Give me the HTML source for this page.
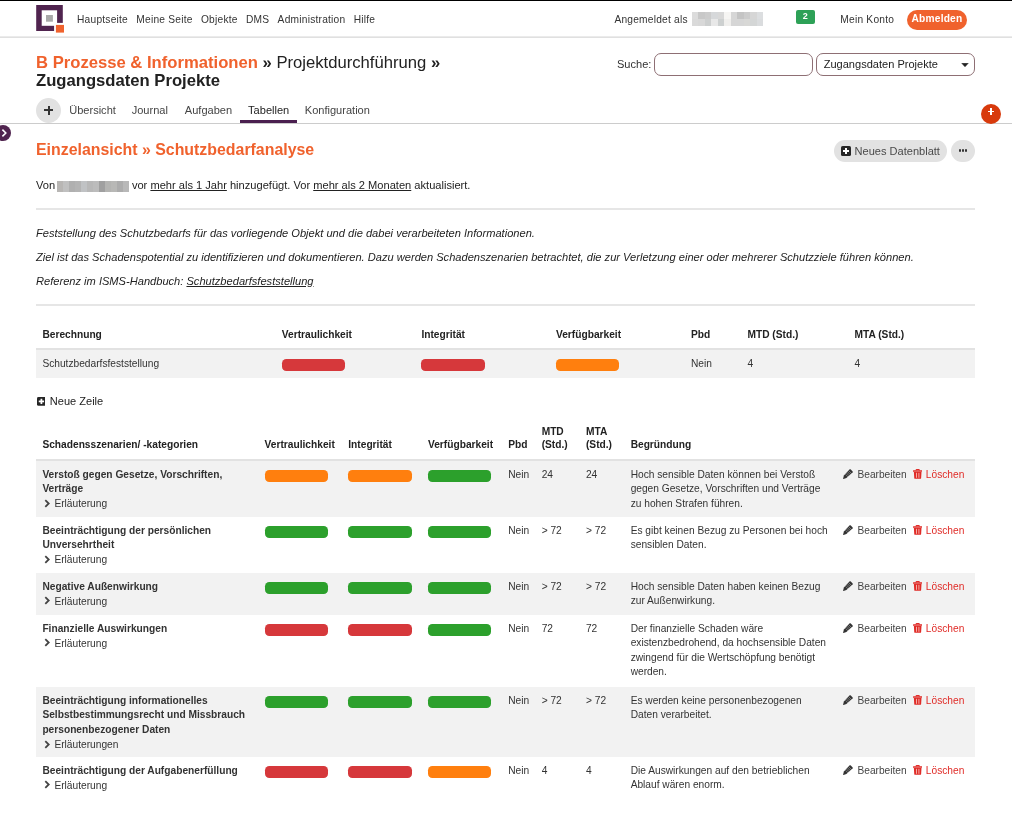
<!DOCTYPE html>
<html lang="de">
<head>
<meta charset="utf-8">
<title>Schutzbedarfanalyse</title>
<style>
*{box-sizing:border-box;}
html,body{margin:0;padding:0;}
body{width:1012px;height:829px;overflow:hidden;background:#fff;color:#333;font-family:"Liberation Sans",Arial,sans-serif;font-size:11.05px;position:relative;}
#topline{position:absolute;left:0;top:0;width:1012px;height:1px;background:#000;}
#hb{position:absolute;left:0;top:36px;width:1012px;height:2px;background:linear-gradient(#ebebeb 0,#ebebeb 50%,#e0e0e0 50%,#e0e0e0 100%);}
#logo{position:absolute;left:36px;top:5px;}
.nv{position:absolute;top:12.7px;font-size:10.2px;line-height:14px;letter-spacing:0.23px;color:#333;white-space:nowrap;}
.nv span{display:inline-block;margin-right:8.3px;}
#badge{position:absolute;left:795.8px;top:10.4px;width:19px;height:13.6px;background:#2da157;border-radius:2px;color:#fff;font-size:9px;font-weight:bold;text-align:center;line-height:12.4px;}
#abm{position:absolute;left:907px;top:9.5px;width:60px;height:20px;border-radius:10px;background:#f0622d;color:#fff;font-size:10.2px;font-weight:bold;text-align:center;line-height:18.7px;letter-spacing:0.2px;}
#crumb{position:absolute;left:36px;top:53.6px;font-size:16.65px;line-height:18.5px;color:#222;white-space:nowrap;}
#crumb .og{color:#f0622d;font-weight:bold;}
#suche{position:absolute;left:617px;top:58.3px;font-size:11.05px;line-height:13px;color:#333;}
#sinput{position:absolute;left:654px;top:53px;width:159px;height:22.5px;border:1px solid #8e6f74;border-radius:7px;background:#fff;}
#ssel{position:absolute;left:816px;top:53px;width:159px;height:22.5px;border:1px solid #8e6f74;border-radius:7px;background:#fff;font-size:11.05px;line-height:21.7px;padding-left:6.7px;color:#222;white-space:nowrap;}
#ssel svg{position:absolute;left:144.3px;top:9.3px;}
#tabline{position:absolute;left:0;top:123px;width:1012px;height:1px;background:#ccc;}
#plus{position:absolute;left:36px;top:97.7px;width:25.3px;height:25.3px;border-radius:50%;background:#e2e2e2;}
#plus:before{content:"";position:absolute;left:8.05px;top:11.55px;width:9.2px;height:2.2px;background:#333;}
#plus:after{content:"";position:absolute;left:11.55px;top:8.05px;width:2.2px;height:9.2px;background:#333;}
.tab{position:absolute;top:104.3px;font-size:11.05px;line-height:13px;color:#444;white-space:nowrap;}
#tabu{position:absolute;left:240px;top:120px;width:57px;height:3px;background:#4a1f4f;}
#rplus{position:absolute;left:981.2px;top:104px;width:20px;height:20px;border-radius:50%;background:#d83a0c;}
#rplus:before{content:"";position:absolute;left:6.6px;top:6.5px;width:6.4px;height:1.8px;background:#fff;}
#rplus:after{content:"";position:absolute;left:8.9px;top:4.2px;width:1.8px;height:6.4px;background:#fff;}
#tog{position:absolute;left:-5.1px;top:125px;width:16px;height:16px;border-radius:8px;background:#50244f;}
h2{position:absolute;left:36px;top:140.8px;margin:0;font-size:15.9px;line-height:18px;font-weight:bold;color:#f0622d;white-space:nowrap;}
#nd{position:absolute;left:833.7px;top:139.8px;width:113.4px;height:22.3px;border-radius:11.2px;background:#e2e2e2;font-size:11.05px;line-height:22.6px;color:#4a4a4a;padding-left:20.9px;white-space:nowrap;}
#nd .pi{position:absolute;left:7.2px;top:6px;}
#dots{position:absolute;left:951px;top:139.8px;width:24px;height:22.3px;border-radius:11.2px;background:#e2e2e2;}
#dots i{position:absolute;top:9.2px;width:2.6px;height:2.6px;background:#333;border-radius:1.3px;}
#von{position:absolute;left:36px;top:178.9px;font-size:11.1px;line-height:13px;white-space:nowrap;color:#222;}
.hr{position:absolute;left:36px;width:939px;height:2px;background:#e6e6e6;}
.it{position:absolute;left:36px;font-size:11.1px;line-height:13px;font-style:italic;color:#222;white-space:nowrap;}
table{position:absolute;left:36px;width:939px;border-collapse:separate;border-spacing:0;font-size:10.2px;color:#333;table-layout:fixed;}
th{text-align:left;font-weight:bold;color:#222;vertical-align:bottom;padding:0 4px 0 6.4px;line-height:14.57px;}
td{vertical-align:top;white-space:nowrap;padding:6.6px 4px 0 6.4px;line-height:14.57px;}
.pill{display:block;width:63.3px;height:12.5px;border-radius:4.3px;margin-top:2.3px;}
.pr{background:#d6383b;}.pg{background:#2ca02c;}.po{background:#ff7f0e;}
tr.z td{background:#f2f2f2;}
#t1{top:321px;}
#t1 th{height:29px;padding-bottom:5.9px;border-bottom:2px solid #e2e2e2;}
#t1 td{height:27.5px;padding-top:6.9px;}
#t1 .pill{margin-top:2.1px;}
#nz{position:absolute;left:36.5px;top:394.5px;font-size:11.05px;line-height:13px;color:#222;padding-left:13.3px;white-space:nowrap;}
#nz .pi{position:absolute;left:0;top:2.8px;width:8.8px;height:8.8px;}
#t2{top:417px;}
#t2 thead th{height:44px;line-height:13.6px;padding-bottom:7.1px;border-bottom:2px solid #e2e2e2;}
.sub{font-weight:normal;display:block;line-height:14.9px;position:relative;top:0.6px;padding-left:12px;}
.ch{position:absolute;left:1.9px;top:1.7px;}
.act{white-space:nowrap;position:relative;}
.act .ed{position:absolute;left:19.9px;top:6.7px;color:#444;}
.act .del{position:absolute;left:88.3px;top:6.7px;color:#e02b27;}
.act .ic{position:absolute;top:1.1px;}
.act .ed .ic{left:-14.2px;}
.act .del .ic{left:-12.9px;}
</style>
</head>
<body>
<svg id="logo" width="28" height="28" viewBox="0 0 28 28"><rect x="0.2" y="0" width="26.6" height="26" fill="#50244f"/><rect x="5.7" y="5.3" width="15.4" height="15.5" fill="#fff"/><rect x="10" y="10" width="6.9" height="6.7" fill="#a9a9a9"/><rect x="18.1" y="17.9" width="9.9" height="10.1" fill="#fff"/><rect x="19.9" y="19.9" width="8.1" height="7.7" fill="#f0622d"/></svg>
<div class="nv" style="left:77px"><span>Hauptseite</span><span>Meine Seite</span><span>Objekte</span><span>DMS</span><span>Administration</span><span>Hilfe</span></div>
<div class="nv" style="left:614.4px">Angemeldet als</div>
<svg style="position:absolute;left:692.1px;top:11.9px" width="71" height="13.9" viewBox="0 0 71 13.9" shape-rendering="crispEdges"><rect x="0" y="0" width="6.75" height="7.25" fill="#dcdcdc"/><rect x="6.45" y="0" width="6.75" height="7.25" fill="#c8c8c8"/><rect x="12.91" y="0" width="6.75" height="7.25" fill="#cccccc"/><rect x="19.36" y="0" width="6.75" height="7.25" fill="#d6d8da"/><rect x="25.82" y="0" width="6.75" height="7.25" fill="#d8d8d8"/><rect x="32.27" y="0" width="6.75" height="7.25" fill="#f6f5f3"/><rect x="38.73" y="0" width="6.75" height="7.25" fill="#d6d6d6"/><rect x="45.18" y="0" width="6.75" height="7.25" fill="#c4c4c4"/><rect x="51.64" y="0" width="6.75" height="7.25" fill="#cccccc"/><rect x="58.09" y="0" width="6.75" height="7.25" fill="#d6d6d6"/><rect x="64.55" y="0" width="6.75" height="7.25" fill="#dcdee0"/><rect x="0" y="6.95" width="6.75" height="7.25" fill="#dadada"/><rect x="6.45" y="6.95" width="6.75" height="7.25" fill="#d8d8d8"/><rect x="12.91" y="6.95" width="6.75" height="7.25" fill="#cdcfcf"/><rect x="19.36" y="6.95" width="6.75" height="7.25" fill="#e8e8e8"/><rect x="25.82" y="6.95" width="6.75" height="7.25" fill="#cdd0d0"/><rect x="32.27" y="6.95" width="6.75" height="7.25" fill="#f0efed"/><rect x="38.73" y="6.95" width="6.75" height="7.25" fill="#d6d6d6"/><rect x="45.18" y="6.95" width="6.75" height="7.25" fill="#d6d6d6"/><rect x="51.64" y="6.95" width="6.75" height="7.25" fill="#d8d8d6"/><rect x="58.09" y="6.95" width="6.75" height="7.25" fill="#d4d6d6"/><rect x="64.55" y="6.95" width="6.75" height="7.25" fill="#dadcde"/></svg>
<div id="badge">2</div>
<div class="nv" style="left:840.3px;top:12.9px">Mein Konto</div>
<div id="abm">Abmelden</div>
<div id="hb"></div>
<div id="topline"></div>

<div id="crumb"><span class="og">B Prozesse &amp; Informationen</span> <b>»</b> Projektdurchführung <b>»</b><br><b>Zugangsdaten Projekte</b></div>
<div id="suche">Suche:</div>
<div id="sinput"></div>
<div id="ssel">Zugangsdaten Projekte<svg width="8" height="4" viewBox="0 0 8 4"><path d="M0.8 0.3h6.4l-3.2 3.4z" fill="#222" stroke="#222" stroke-width="0.6" stroke-linejoin="round"/></svg></div>

<div id="tabline"></div>
<div id="plus"></div>
<div class="tab" style="left:69.2px">Übersicht</div>
<div class="tab" style="left:131.7px">Journal</div>
<div class="tab" style="left:184.8px">Aufgaben</div>
<div class="tab" style="left:248.1px;color:#222">Tabellen</div>
<div class="tab" style="left:304.8px">Konfiguration</div>
<div id="tabu"></div>
<div id="rplus"></div>
<div id="tog"><svg width="16" height="16" viewBox="0 0 16 16"><path d="M7.4 4.6l3.4 3.4-3.4 3.4" fill="none" stroke="#fff" stroke-width="1.6"/></svg></div>

<h2>Einzelansicht » Schutzbedarfanalyse</h2>
<div id="nd"><svg class="pi" width="10" height="10" viewBox="0 0 10 10"><rect width="10" height="10" rx="1.6" fill="#262626"/><rect x="2" y="4" width="6" height="2" fill="#fff"/><rect x="4" y="2" width="2" height="6" fill="#fff"/></svg>Neues Datenblatt</div>
<div id="dots"><i style="left:7.8px"></i><i style="left:10.7px"></i><i style="left:13.6px"></i></div>

<div id="von">Von <span style="display:inline-block;width:70.6px"></span> vor <u>mehr als 1 Jahr</u> hinzugefügt. Vor <u>mehr als 2 Monaten</u> aktualisiert.</div>
<svg style="position:absolute;left:57.2px;top:180.9px" width="71.7" height="10.8" viewBox="0 0 71.7 10.8" shape-rendering="crispEdges"><rect x="0" y="0" width="6.28" height="11.1" fill="#b8b6b4"/><rect x="5.98" y="0" width="6.28" height="11.1" fill="#c0c0c0"/><rect x="11.95" y="0" width="6.28" height="11.1" fill="#b0b0b0"/><rect x="17.93" y="0" width="6.28" height="11.1" fill="#b4b4b4"/><rect x="23.9" y="0" width="6.28" height="11.1" fill="#c0c2c4"/><rect x="29.88" y="0" width="6.28" height="11.1" fill="#b8b8b8"/><rect x="35.85" y="0" width="6.28" height="11.1" fill="#bcbcbc"/><rect x="41.83" y="0" width="6.28" height="11.1" fill="#a0a0a0"/><rect x="47.8" y="0" width="6.28" height="11.1" fill="#b4b4b2"/><rect x="53.78" y="0" width="6.28" height="11.1" fill="#b8b8b6"/><rect x="59.75" y="0" width="6.28" height="11.1" fill="#acacac"/><rect x="65.73" y="0" width="6.28" height="11.1" fill="#b8b8b8"/></svg>
<div class="hr" style="top:208px"></div>
<div class="it" style="top:226.8px">Feststellung des Schutzbedarfs für das vorliegende Objekt und die dabei verarbeiteten Informationen.</div>
<div class="it" style="top:250.8px">Ziel ist das Schadenspotential zu identifizieren und dokumentieren. Dazu werden Schadenszenarien betrachtet, die zur Verletzung einer oder mehrerer Schutzziele führen können.</div>
<div class="it" style="top:274.8px">Referenz im ISMS-Handbuch: <u>Schutzbedarfsfeststellung</u></div>
<div class="hr" style="top:304px"></div>

<table id="t1">
<colgroup><col style="width:239.4px"><col style="width:139.6px"><col style="width:134.6px"><col style="width:135px"><col style="width:56.5px"><col style="width:107px"><col></colgroup>
<thead><tr><th>Berechnung</th><th>Vertraulichkeit</th><th>Integrität</th><th>Verfügbarkeit</th><th>Pbd</th><th>MTD (Std.)</th><th>MTA (Std.)</th></tr></thead>
<tbody><tr class="z"><td>Schutzbedarfsfeststellung</td><td><i class="pill pr"></i></td><td><i class="pill pr"></i></td><td><i class="pill po"></i></td><td>Nein</td><td>4</td><td>4</td></tr></tbody>
</table>

<div id="nz"><svg class="pi" width="10" height="10" viewBox="0 0 10 10"><rect width="10" height="10" rx="1.6" fill="#262626"/><rect x="2" y="4" width="6" height="2" fill="#fff"/><rect x="4" y="2" width="2" height="6" fill="#fff"/></svg>Neue Zeile</div>

<table id="t2">
<colgroup><col style="width:222.2px"><col style="width:83.7px"><col style="width:79.7px"><col style="width:80.2px"><col style="width:33.5px"><col style="width:44.3px"><col style="width:44.7px"><col style="width:213.3px"><col></colgroup>
<thead><tr><th>Schadensszenarien/ -kategorien</th><th>Vertraulichkeit</th><th>Integrität</th><th>Verfügbarkeit</th><th>Pbd</th><th>MTD (Std.)</th><th>MTA (Std.)</th><th>Begründung</th><th></th></tr></thead>
<tbody>
<tr class="z" style="height:56px"><td><b>Verstoß gegen Gesetze, Vorschriften,<br>Verträge</b><span class="sub"><svg class="ch" width="7" height="9" viewBox="0 0 7 9"><path d="M1.3 1.2L4.7 4.5L1.3 7.8" fill="none" stroke="#444" stroke-width="1.8"/></svg>Erläuterung</span></td><td><i class="pill po"></i></td><td><i class="pill po"></i></td><td><i class="pill pg"></i></td><td>Nein</td><td>24</td><td>24</td><td>Hoch sensible Daten können bei Verstoß<br>gegen Gesetze, Vorschriften und Verträge<br>zu hohen Strafen führen.</td><td class="act"><span class="ed"><svg class="ic" width="10" height="10" viewBox="0 0 10 10"><path fill="#333" d="M7.5 0.3L9.7 2.5Q10 2.9 9.7 3.3L3.4 9.1L0.5 9.9Q0 10 0.1 9.5L0.9 6.6L6.7 0.3Q7.1 0 7.5 0.3z"/><path d="M5.7 1.7L8.3 4.3M4.6 2.9L7.2 5.5M3.5 4.1L6.1 6.7M2.4 5.3L5 7.9" stroke="#b0b0b0" stroke-width="0.55"/></svg>Bearbeiten</span><span class="del"><svg class="ic" width="9.4" height="9.8" viewBox="0 0 9.4 9.8"><path fill="none" stroke="#e02b27" stroke-width="1" d="M3.1 1.5V0.5H6.3V1.5"/><rect x="0" y="1.3" width="9.4" height="1.5" rx="0.4" fill="#e02b27"/><path fill="#e02b27" d="M0.9 3.1H8.5L8.1 9.2Q8 9.8 7.4 9.8H2Q1.4 9.8 1.3 9.2z"/><path d="M3.5 3.8V8.8M5.9 3.8V8.8" stroke="#f7bdb6" stroke-width="0.9"/></svg>Löschen</span></td></tr>
<tr class="" style="height:56px"><td><b>Beeinträchtigung der persönlichen<br>Unversehrtheit</b><span class="sub"><svg class="ch" width="7" height="9" viewBox="0 0 7 9"><path d="M1.3 1.2L4.7 4.5L1.3 7.8" fill="none" stroke="#444" stroke-width="1.8"/></svg>Erläuterung</span></td><td><i class="pill pg"></i></td><td><i class="pill pg"></i></td><td><i class="pill pg"></i></td><td>Nein</td><td>&gt; 72</td><td>&gt; 72</td><td>Es gibt keinen Bezug zu Personen bei hoch<br>sensiblen Daten.</td><td class="act"><span class="ed"><svg class="ic" width="10" height="10" viewBox="0 0 10 10"><path fill="#333" d="M7.5 0.3L9.7 2.5Q10 2.9 9.7 3.3L3.4 9.1L0.5 9.9Q0 10 0.1 9.5L0.9 6.6L6.7 0.3Q7.1 0 7.5 0.3z"/><path d="M5.7 1.7L8.3 4.3M4.6 2.9L7.2 5.5M3.5 4.1L6.1 6.7M2.4 5.3L5 7.9" stroke="#b0b0b0" stroke-width="0.55"/></svg>Bearbeiten</span><span class="del"><svg class="ic" width="9.4" height="9.8" viewBox="0 0 9.4 9.8"><path fill="none" stroke="#e02b27" stroke-width="1" d="M3.1 1.5V0.5H6.3V1.5"/><rect x="0" y="1.3" width="9.4" height="1.5" rx="0.4" fill="#e02b27"/><path fill="#e02b27" d="M0.9 3.1H8.5L8.1 9.2Q8 9.8 7.4 9.8H2Q1.4 9.8 1.3 9.2z"/><path d="M3.5 3.8V8.8M5.9 3.8V8.8" stroke="#f7bdb6" stroke-width="0.9"/></svg>Löschen</span></td></tr>
<tr class="z" style="height:42px"><td><b>Negative Außenwirkung</b><span class="sub"><svg class="ch" width="7" height="9" viewBox="0 0 7 9"><path d="M1.3 1.2L4.7 4.5L1.3 7.8" fill="none" stroke="#444" stroke-width="1.8"/></svg>Erläuterung</span></td><td><i class="pill pg"></i></td><td><i class="pill pg"></i></td><td><i class="pill pg"></i></td><td>Nein</td><td>&gt; 72</td><td>&gt; 72</td><td>Hoch sensible Daten haben keinen Bezug<br>zur Außenwirkung.</td><td class="act"><span class="ed"><svg class="ic" width="10" height="10" viewBox="0 0 10 10"><path fill="#333" d="M7.5 0.3L9.7 2.5Q10 2.9 9.7 3.3L3.4 9.1L0.5 9.9Q0 10 0.1 9.5L0.9 6.6L6.7 0.3Q7.1 0 7.5 0.3z"/><path d="M5.7 1.7L8.3 4.3M4.6 2.9L7.2 5.5M3.5 4.1L6.1 6.7M2.4 5.3L5 7.9" stroke="#b0b0b0" stroke-width="0.55"/></svg>Bearbeiten</span><span class="del"><svg class="ic" width="9.4" height="9.8" viewBox="0 0 9.4 9.8"><path fill="none" stroke="#e02b27" stroke-width="1" d="M3.1 1.5V0.5H6.3V1.5"/><rect x="0" y="1.3" width="9.4" height="1.5" rx="0.4" fill="#e02b27"/><path fill="#e02b27" d="M0.9 3.1H8.5L8.1 9.2Q8 9.8 7.4 9.8H2Q1.4 9.8 1.3 9.2z"/><path d="M3.5 3.8V8.8M5.9 3.8V8.8" stroke="#f7bdb6" stroke-width="0.9"/></svg>Löschen</span></td></tr>
<tr class="" style="height:72px"><td><b>Finanzielle Auswirkungen</b><span class="sub"><svg class="ch" width="7" height="9" viewBox="0 0 7 9"><path d="M1.3 1.2L4.7 4.5L1.3 7.8" fill="none" stroke="#444" stroke-width="1.8"/></svg>Erläuterung</span></td><td><i class="pill pr"></i></td><td><i class="pill pr"></i></td><td><i class="pill pg"></i></td><td>Nein</td><td>72</td><td>72</td><td>Der finanzielle Schaden wäre<br>existenzbedrohend, da hochsensible Daten<br>zwingend für die Wertschöpfung benötigt<br>werden.</td><td class="act"><span class="ed"><svg class="ic" width="10" height="10" viewBox="0 0 10 10"><path fill="#333" d="M7.5 0.3L9.7 2.5Q10 2.9 9.7 3.3L3.4 9.1L0.5 9.9Q0 10 0.1 9.5L0.9 6.6L6.7 0.3Q7.1 0 7.5 0.3z"/><path d="M5.7 1.7L8.3 4.3M4.6 2.9L7.2 5.5M3.5 4.1L6.1 6.7M2.4 5.3L5 7.9" stroke="#b0b0b0" stroke-width="0.55"/></svg>Bearbeiten</span><span class="del"><svg class="ic" width="9.4" height="9.8" viewBox="0 0 9.4 9.8"><path fill="none" stroke="#e02b27" stroke-width="1" d="M3.1 1.5V0.5H6.3V1.5"/><rect x="0" y="1.3" width="9.4" height="1.5" rx="0.4" fill="#e02b27"/><path fill="#e02b27" d="M0.9 3.1H8.5L8.1 9.2Q8 9.8 7.4 9.8H2Q1.4 9.8 1.3 9.2z"/><path d="M3.5 3.8V8.8M5.9 3.8V8.8" stroke="#f7bdb6" stroke-width="0.9"/></svg>Löschen</span></td></tr>
<tr class="z" style="height:70px"><td><b>Beeinträchtigung informationelles<br>Selbstbestimmungsrecht und Missbrauch<br>personenbezogener Daten</b><span class="sub"><svg class="ch" width="7" height="9" viewBox="0 0 7 9"><path d="M1.3 1.2L4.7 4.5L1.3 7.8" fill="none" stroke="#444" stroke-width="1.8"/></svg>Erläuterungen</span></td><td><i class="pill pg"></i></td><td><i class="pill pg"></i></td><td><i class="pill pg"></i></td><td>Nein</td><td>&gt; 72</td><td>&gt; 72</td><td>Es werden keine personenbezogenen<br>Daten verarbeitet.</td><td class="act"><span class="ed"><svg class="ic" width="10" height="10" viewBox="0 0 10 10"><path fill="#333" d="M7.5 0.3L9.7 2.5Q10 2.9 9.7 3.3L3.4 9.1L0.5 9.9Q0 10 0.1 9.5L0.9 6.6L6.7 0.3Q7.1 0 7.5 0.3z"/><path d="M5.7 1.7L8.3 4.3M4.6 2.9L7.2 5.5M3.5 4.1L6.1 6.7M2.4 5.3L5 7.9" stroke="#b0b0b0" stroke-width="0.55"/></svg>Bearbeiten</span><span class="del"><svg class="ic" width="9.4" height="9.8" viewBox="0 0 9.4 9.8"><path fill="none" stroke="#e02b27" stroke-width="1" d="M3.1 1.5V0.5H6.3V1.5"/><rect x="0" y="1.3" width="9.4" height="1.5" rx="0.4" fill="#e02b27"/><path fill="#e02b27" d="M0.9 3.1H8.5L8.1 9.2Q8 9.8 7.4 9.8H2Q1.4 9.8 1.3 9.2z"/><path d="M3.5 3.8V8.8M5.9 3.8V8.8" stroke="#f7bdb6" stroke-width="0.9"/></svg>Löschen</span></td></tr>
<tr class="" style="height:50px"><td><b>Beeinträchtigung der Aufgabenerfüllung</b><span class="sub"><svg class="ch" width="7" height="9" viewBox="0 0 7 9"><path d="M1.3 1.2L4.7 4.5L1.3 7.8" fill="none" stroke="#444" stroke-width="1.8"/></svg>Erläuterung</span></td><td><i class="pill pr"></i></td><td><i class="pill pr"></i></td><td><i class="pill po"></i></td><td>Nein</td><td>4</td><td>4</td><td>Die Auswirkungen auf den betrieblichen<br>Ablauf wären enorm.</td><td class="act"><span class="ed"><svg class="ic" width="10" height="10" viewBox="0 0 10 10"><path fill="#333" d="M7.5 0.3L9.7 2.5Q10 2.9 9.7 3.3L3.4 9.1L0.5 9.9Q0 10 0.1 9.5L0.9 6.6L6.7 0.3Q7.1 0 7.5 0.3z"/><path d="M5.7 1.7L8.3 4.3M4.6 2.9L7.2 5.5M3.5 4.1L6.1 6.7M2.4 5.3L5 7.9" stroke="#b0b0b0" stroke-width="0.55"/></svg>Bearbeiten</span><span class="del"><svg class="ic" width="9.4" height="9.8" viewBox="0 0 9.4 9.8"><path fill="none" stroke="#e02b27" stroke-width="1" d="M3.1 1.5V0.5H6.3V1.5"/><rect x="0" y="1.3" width="9.4" height="1.5" rx="0.4" fill="#e02b27"/><path fill="#e02b27" d="M0.9 3.1H8.5L8.1 9.2Q8 9.8 7.4 9.8H2Q1.4 9.8 1.3 9.2z"/><path d="M3.5 3.8V8.8M5.9 3.8V8.8" stroke="#f7bdb6" stroke-width="0.9"/></svg>Löschen</span></td></tr>
</tbody>
</table>
</body>
</html>
